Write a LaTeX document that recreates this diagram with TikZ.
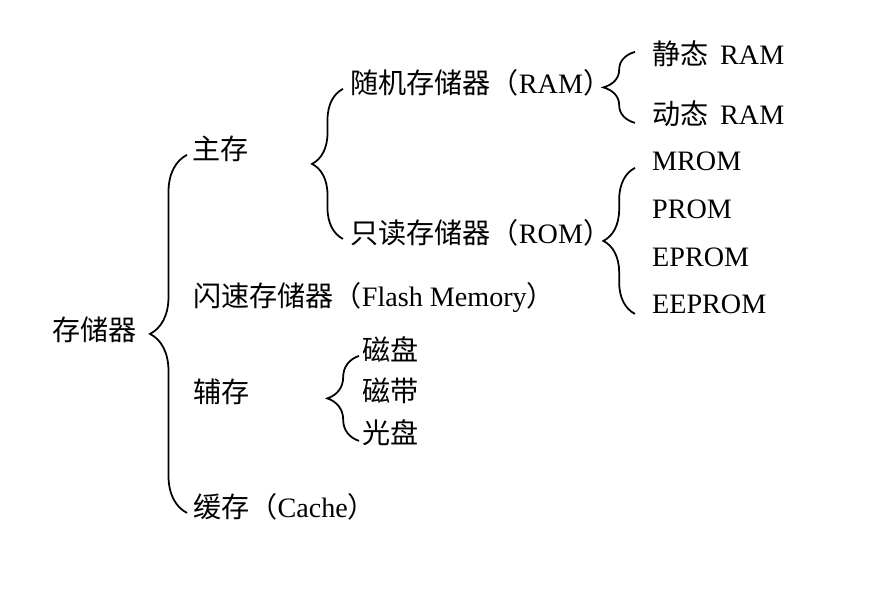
\documentclass[tikz,border=0pt]{standalone}
\usepackage{fontspec}
\setmainfont{Liberation Serif}
\newfontfamily\cjk{Noto Sans CJK SC}
\usetikzlibrary{decorations.pathreplacing, calc}

\newcommand{\zh}[1]{{\cjk #1}}

\begin{document}
\begin{tikzpicture}[
    x=0.03cm, y=-0.03cm,
    % Node styles
    item/.style={
        anchor=base west,
        inner sep=0pt,
        text height=0.85em,
        text depth=0.15em,
        font=\fontsize{24}{28}\selectfont
    },
    curly/.style={
        decorate,
        decoration={brace, amplitude=#1},
        line width=1.5pt
    },
    curly/.default=0.95cm
]

\useasboundingbox (0,0) rectangle (871,588);

% Root
\node[item] (storage) at (52,340) {\zh{存储器}};

% Level 1
\node[item] (zhucun) at (192,159) {\zh{主存}};
\node[item] (shansu) at (193,306) {\zh{闪速存储器（}Flash Memory\zh{）}};
\node[item] (fucun) at (193,402) {\zh{辅存}};
\node[item] (huancun) at (193,517) {\zh{缓存（}Cache\zh{）}};

% Level 2: main memory
\node[item] (ram) at (350,93) {\zh{随机存储器（}RAM\zh{）}};
\node[item] (rom) at (350,243) {\zh{只读存储器（}ROM\zh{）}};

% Level 2: secondary memory
\node[item] (cipan) at (362,360) {\zh{磁盘}};
\node[item] (cidai) at (362,401) {\zh{磁带}};
\node[item] (guangpan) at (362,443) {\zh{光盘}};

% Level 3: RAM
\node[item] (sram) at (652,64) {\zh{静态}\hspace{4pt} RAM};
\node[item] (dram) at (652,124) {\zh{动态}\hspace{4pt} RAM};

% Level 3: ROM
\node[item] (mrom) at (652,170) {MROM};
\node[item] (prom) at (652,218) {PROM};
\node[item] (eprom) at (652,266) {EPROM};
\node[item] (eeprom) at (652,313) {EEPROM};

% Braces
\draw[curly=1.11cm] ($(huancun.west)+(-6,0)$) -- ($(huancun.west |- zhucun.west)+(-6,0)$);
\draw[curly=0.93cm] ($(rom.west)+(-7,0)$) -- ($(rom.west |- ram.west)+(-7,0)$);
\draw[curly] ($(guangpan.west)+(-3,2)$) -- ($(guangpan.west |- cipan.west)+(-3,0)$);
\draw[curly] ($(dram.west)+(-17,3)$) -- ($(dram.west |- sram.west)+(-17,-8)$);
\draw[curly] ($(eeprom.west)+(-17,5)$) -- ($(eeprom.west |- mrom.west)+(-17,2)$);

\end{tikzpicture}
\end{document}
